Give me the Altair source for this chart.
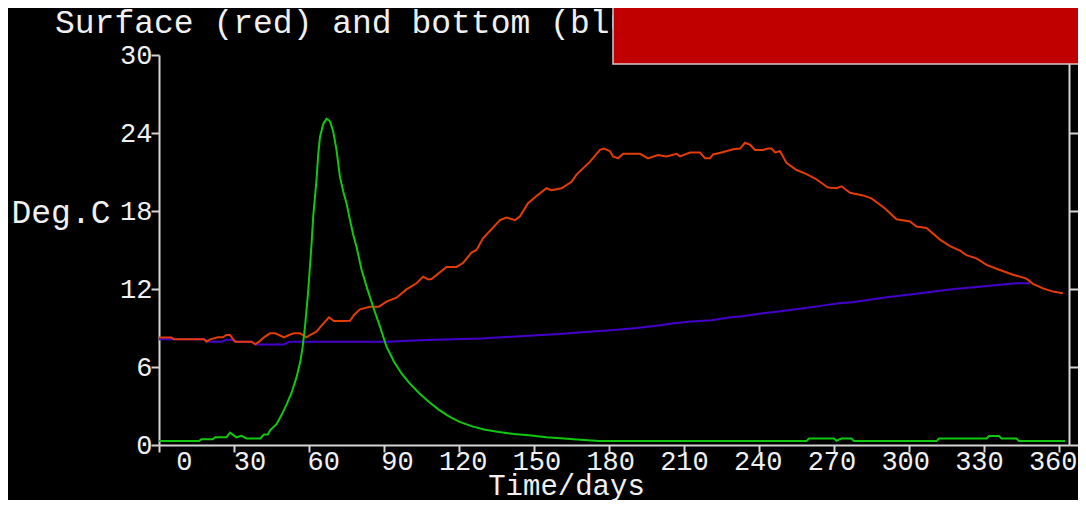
import altair as alt
import pandas as pd

# ---------------- data ----------------
surf_day = [0, 5, 6, 18, 19, 20.5, 23.5, 25.5, 27, 28.4, 29.7, 30.5, 37, 38.5, 40, 42, 44.4, 46.5,
            48, 50, 52, 54, 56.4, 57.5, 59, 60.4, 63, 65.5, 68, 70, 73.7, 76.4, 78, 80.4, 84.4, 88,
            91, 95, 99, 103, 105.7, 107.7, 109, 115, 119, 121.6, 125, 127, 129.6, 136.4, 139, 142.4,
            144.4, 147.6, 151, 155, 157, 161, 165, 167, 172.4, 176.4, 178, 180.4, 181.6, 183.6, 185.6,
            192.4, 195.6, 199.6, 203, 207, 208.4, 212.4, 216.4, 218.4, 220.4, 221.6, 225, 229.6, 232.4,
            234.4, 236.4, 238.4, 241.6, 243.6, 245, 246.4, 248.4, 251, 255, 258.4, 262.5, 267.6, 271,
            273, 276.4, 281.6, 285, 290.4, 295, 300.4, 303, 307, 312.4, 316.4, 320.4, 323, 327, 331,
            336.4, 341.6, 347, 349.6, 353.6, 357.6, 361.6]
surf_temp = [8.26, 8.26, 8.13, 8.13, 7.95, 8.13, 8.28, 8.28, 8.46, 8.46, 8.13, 7.95, 7.95, 7.74, 7.95,
             8.28, 8.59, 8.59, 8.46, 8.28, 8.46, 8.59, 8.59, 8.46, 8.28, 8.46, 8.72, 9.3, 9.82, 9.54,
             9.54, 9.56, 10.0, 10.44, 10.64, 10.64, 11.03, 11.33, 11.97, 12.44, 12.95, 12.74, 12.77,
             13.7, 13.7, 14.0, 14.8, 15.0, 15.9, 17.3, 17.5, 17.3, 17.6, 18.6, 19.15, 19.75, 19.6,
             19.75, 20.25, 20.8, 21.8, 22.7, 22.8, 22.6, 22.2, 22.05, 22.4, 22.4, 22.05, 22.3, 22.2,
             22.4, 22.2, 22.5, 22.5, 22.05, 22.05, 22.35, 22.5, 22.75, 22.8, 23.25, 23.1, 22.7, 22.7,
             22.8, 22.8, 22.5, 22.6, 21.7, 21.15, 20.9, 20.5, 19.8, 19.75, 19.9, 19.4, 19.2, 18.97,
             18.2, 17.36, 17.2, 16.8, 16.7, 15.8, 15.3, 14.95, 14.6, 14.36, 13.85, 13.46, 13.1, 12.8,
             12.4, 12.05, 11.8, 11.67]

bot_day = [0, 18, 20, 25, 27, 29, 31, 37, 39, 50, 52, 91, 107, 129, 146, 160, 172, 182, 191, 199,
           206, 213, 221, 228, 234, 240, 247, 254, 260, 266, 272, 278, 285, 291, 297, 303, 310, 318,
           326, 334, 343, 348.4]
bot_temp = [8.13, 8.13, 7.95, 7.95, 8.1, 8.1, 7.95, 7.95, 7.74, 7.74, 7.95, 7.95, 8.08, 8.2, 8.38,
            8.54, 8.72, 8.85, 9.0, 9.17, 9.36, 9.5, 9.6, 9.8, 9.92, 10.1, 10.25, 10.43, 10.58, 10.74,
            10.9, 11.0, 11.2, 11.36, 11.5, 11.64, 11.8, 12.0, 12.13, 12.28, 12.44, 12.44]

grn_day = [0, 16, 17, 21.5, 22.5, 27, 28.4, 31, 33, 35, 40.5, 42, 43.5, 44.5, 47, 49, 51, 53, 55,
           56.5, 57.5, 58.4, 59.7, 61, 61.7, 63, 63.7, 64.4, 65.7, 67, 68.4, 69.7, 71, 72.4, 73.7, 75,
           76.4, 77.7, 79, 81, 83, 85.7, 88.4, 91, 94, 97, 100, 104, 108, 112, 116, 120, 125, 130,
           136, 142, 148, 155, 162, 170, 176, 259, 260, 270, 271, 273, 277, 278, 311, 312, 331, 332,
           336, 337, 343, 344, 362.4]
grn_val = [0.3, 0.3, 0.44, 0.44, 0.59, 0.59, 0.95, 0.59, 0.7, 0.5, 0.5, 0.8, 0.8, 1.15, 1.6, 2.3,
           3.1, 4.0, 5.2, 6.4, 7.6, 9.1, 11.9, 15.4, 17.6, 20.4, 22.4, 23.7, 24.7, 25.1, 24.9, 24.1,
           22.7, 20.6, 19.5, 18.6, 17.3, 16.15, 15.25, 13.5, 12.2, 10.6, 9.1, 7.56, 6.4, 5.5, 4.8,
           4.0, 3.3, 2.7, 2.2, 1.8, 1.45, 1.2, 1.0, 0.85, 0.75, 0.6, 0.5, 0.38, 0.3, 0.3, 0.5, 0.5,
           0.33, 0.5, 0.5, 0.3, 0.3, 0.5, 0.5, 0.69, 0.69, 0.5, 0.5, 0.3, 0.3]

x_ticks = [0, 30, 60, 90, 120, 150, 180, 210, 240, 270, 300, 330, 360]
y_ticks = [0, 6, 12, 18, 24, 30]
title_text = "Surface (red) and bottom (blue) temperatures"
banner_text = "return to go back to the menu"
x_title = "Time/days"
y_title = "Deg.C"

# ---------------- styling ----------------
FONT = "Liberation Mono"
AX = "#d4d4d4"
TX = "#f0f0f0"
RED = "#e43c08"
BLUE = "#4400cc"
GREEN = "#10c810"

surf = pd.DataFrame({"day": surf_day, "temp": surf_temp})
bot = pd.DataFrame({"day": bot_day, "temp": bot_temp})
grn = pd.DataFrame({"day": grn_day, "temp": grn_val})
xtick_df = pd.DataFrame({"day": x_ticks})

xscale = alt.Scale(domain=[0, 364], nice=False, zero=False)
yscale = alt.Scale(domain=[0, 30], nice=False)
# tick labels sit on their own character grid, slightly narrower than the tick spacing
label_scale = alt.Scale(domain=[0, 360], range=[33.5, 918.5], nice=False, zero=False)

xaxis = alt.Axis(values=x_ticks, title=x_title, labels=False, tickSize=7,
                 titleX=407, titleY=49.5, titleAlign="center", titleBaseline="alphabetic",
                 titleFontSize=29)
yaxis_left = alt.Axis(orient="left", values=y_ticks, title=y_title, titleAngle=0,
                      titleAlign="left", titleBaseline="alphabetic", titleX=-148, titleY=167,
                      tickSize=8, labelPadding=-1, labelBaseline="middle", labelOverlap=False,
                      labelFlush=False)
yaxis_right = alt.Axis(orient="right", values=y_ticks, labels=False, title="", tickSize=12)

X_axis = alt.X("day:Q", scale=xscale, axis=xaxis)
X_plain = alt.X("day:Q", scale=xscale, axis=None)

right_axis = alt.Chart(bot).mark_line(opacity=0).encode(
    x=X_plain, y=alt.Y("temp:Q", scale=yscale, axis=yaxis_right))
blue_line = alt.Chart(bot).mark_line(color=BLUE, strokeWidth=2).encode(
    x=X_plain, y=alt.Y("temp:Q", scale=yscale, axis=None))
red_line = alt.Chart(surf).mark_line(color=RED, strokeWidth=2).encode(
    x=X_axis, y=alt.Y("temp:Q", scale=yscale, axis=yaxis_left))
green_line = alt.Chart(grn).mark_line(color=GREEN, strokeWidth=2).encode(
    x=X_plain, y=alt.Y("temp:Q", scale=yscale, axis=None))

xlabels = alt.Chart(xtick_df).mark_text(
    align="right", baseline="alphabetic", font=FONT, fontSize=27, color=TX
).encode(x=alt.X("day:Q", scale=label_scale, axis=None), y=alt.value(415),
         text=alt.Text("day:Q", format="d"))

title = alt.Chart(pd.DataFrame({"t": [title_text]})).mark_text(
    align="left", baseline="alphabetic", font=FONT, fontSize=33, color=TX
).encode(x=alt.value(-104), y=alt.value(-21.7), text="t:N")

box = alt.Chart(pd.DataFrame({"k": [0]})).mark_rect(
    color="#c00000", stroke="#d8c8c8", strokeWidth=1.5
).encode(x=alt.value(454), x2=alt.value(980), y=alt.value(-90), y2=alt.value(9))

banner = alt.Chart(pd.DataFrame({"t": [banner_text]})).mark_text(
    align="left", baseline="alphabetic", font=FONT, fontSize=27, color="#ffffff"
).encode(x=alt.value(595), y=alt.value(-53), text="t:N")

chart = alt.layer(right_axis, blue_line, red_line, green_line, xlabels, title, box, banner).resolve_scale(
    x="independent"
).resolve_axis(
    y="independent"
).properties(
    width=910, height=390,
    padding={"left": 151, "top": 47, "right": 9, "bottom": 55},
    autosize=alt.AutoSizeParams(type="none"),
).configure(background="black").configure_view(strokeWidth=0).configure_axis(
    domainColor=AX, domainWidth=2, tickColor=AX, tickWidth=2, labelColor=TX, labelFont=FONT,
    labelFontSize=27, titleColor=TX, titleFont=FONT, titleFontSize=33, titleFontWeight="normal",
    grid=False,
)

chart.save("out.html", embed_options={"renderer": "svg", "actions": False})
